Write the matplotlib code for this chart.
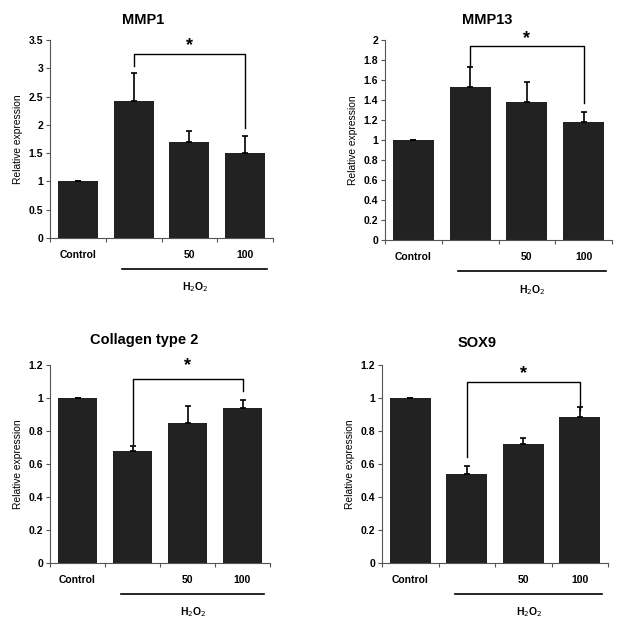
import matplotlib
matplotlib.use("Agg")
import matplotlib.pyplot as plt
import matplotlib.transforms as mtransforms

plt.rcParams["font.family"] = ["Liberation Sans", "DejaVu Sans"]

groups = ["Control", "", "50", "100"]

mmp1_vals = [1.0, 2.42, 1.70, 1.50]
mmp1_err = [0.0, 0.50, 0.20, 0.30]

mmp13_vals = [1.0, 1.53, 1.38, 1.18]
mmp13_err = [0.0, 0.20, 0.20, 0.10]

col2_vals = [1.0, 0.68, 0.85, 0.94]
col2_err = [0.0, 0.03, 0.10, 0.05]

sox9_vals = [1.0, 0.54, 0.72, 0.885]
sox9_err = [0.0, 0.045, 0.035, 0.06]

# (title, values, errors, ymax, ystep, bracket y, left drop, right drop)
panels = [
    ("MMP1", mmp1_vals, mmp1_err, 3.5, 0.5, 3.25, 3.04, 1.94),
    ("MMP13", mmp13_vals, mmp13_err, 2.0, 0.2, 1.94, 1.73, 1.37),
    ("Collagen type 2", col2_vals, col2_err, 1.2, 0.2, 1.113, 0.72, 1.04),
    ("SOX9", sox9_vals, sox9_err, 1.2, 0.2, 1.10, 0.643, 0.927),
]

W, H = 624, 622
# axes rectangles in pixels: left, top, right, bottom
rects = [(50, 40, 273, 238), (385, 40, 612, 240),
         (50, 365, 270, 563), (382, 365, 608, 563)]
title_pos = [(143, 20), (487, 20), (144, 340), (477, 343)]
star_off = [6, 5, 11, 5]  # asterisk height above bracket, px

fig = plt.figure(figsize=(W / 100, H / 100), dpi=100)
bar_color = "#222222"
spine_color = "#555555"

for (title, vals, errs, ymax, ystep, by, ly, ry), (l, t, r, b), (tx, ty), so in zip(
        panels, rects, title_pos, star_off):
    ax = fig.add_axes([l / W, 1 - b / H, (r - l) / W, (b - t) / H])
    x = list(range(len(groups)))
    ax.bar(x, vals, width=0.72, color=bar_color, zorder=2)
    ax.errorbar(x, vals, yerr=[[0] * len(errs), errs], fmt="none", ecolor="black",
                elinewidth=1.2, capsize=2.5, capthick=1.2, zorder=3)
    ax.set_xlim(-0.5, 3.5)
    ax.set_ylim(0, ymax)
    n = int(round(ymax / ystep))
    yt = [round(i * ystep, 2) for i in range(n + 1)]
    ax.set_yticks(yt)
    ax.set_yticklabels([f"{v:g}" for v in yt], fontsize=7.5, fontweight="bold")
    ax.set_xticks([-0.5, 0.5, 1.5, 2.5, 3.5])
    ax.set_xticklabels([])
    ax.tick_params(axis="y", length=3, width=0.8, color=spine_color, pad=2)
    ax.tick_params(axis="x", length=3, width=0.8, color=spine_color)
    for s in ["top", "right"]:
        ax.spines[s].set_visible(False)
    for s in ["left", "bottom"]:
        ax.spines[s].set_color(spine_color)
        ax.spines[s].set_linewidth(0.8)
    ax.set_ylabel("Relative expression", fontsize=7.4, labelpad=4)

    # category labels under bars
    trans = mtransforms.blended_transform_factory(ax.transData, ax.transAxes)
    for xi, g in zip(x, groups):
        ax.text(xi, -0.086, g, transform=trans, ha="center", va="center",
                fontsize=7.5, fontweight="bold")
    # H2O2 group line
    ax.plot([0.79, 3.39], [-0.157, -0.157], transform=trans, color="black",
            lw=1.2, clip_on=False)
    ax.text(2.1, -0.25, "H$_2$O$_2$", transform=trans, ha="center", va="center",
            fontsize=7.5, fontweight="bold")

    # significance bracket
    ax.plot([1, 1, 3, 3], [ly, by, by, ry], color="black", lw=1.0, clip_on=False, zorder=4)
    ax.annotate("*", xy=(2, by), xytext=(0, (so - 2) * 0.72), textcoords="offset points",
                ha="center", va="baseline", fontsize=13, fontweight="bold",
                annotation_clip=False)

    fig.text(tx / W, 1 - ty / H, title, ha="center", va="center",
             fontsize=10.5, fontweight="bold")

fig.savefig("out.png", dpi=100)
